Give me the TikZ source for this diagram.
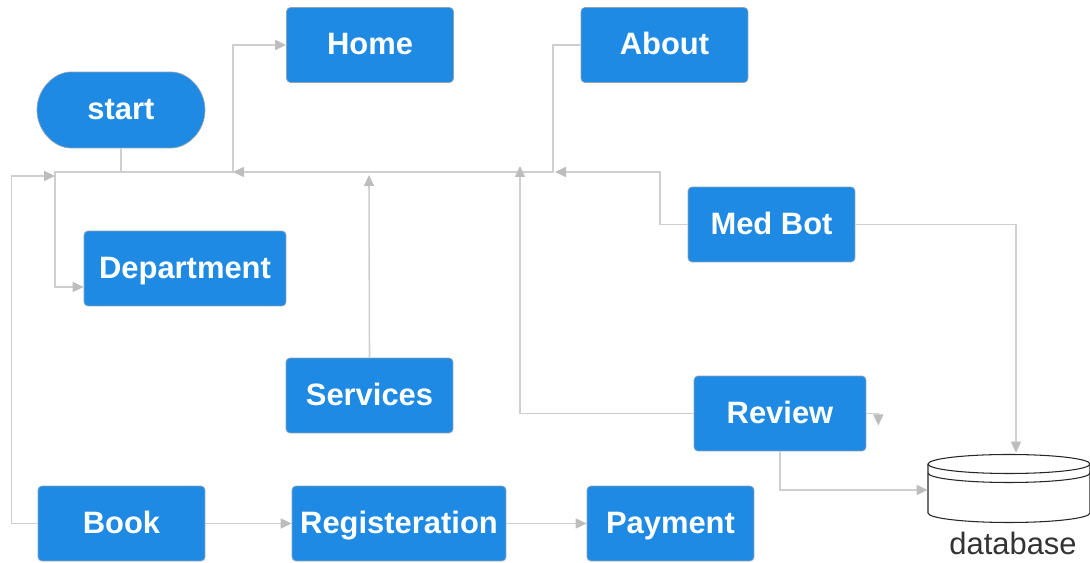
\documentclass[tikz,border=0pt]{standalone}
\usepackage{fontspec}
\setmainfont{Liberation Sans}
\usetikzlibrary{arrows.meta, positioning, shapes.misc, calc}
\definecolor{boxblue}{HTML}{1E8AE4}
\definecolor{boxedge}{HTML}{8FA3B5}
\definecolor{linegray}{HTML}{CFCFCF}
\definecolor{tipgray}{HTML}{BDBDBD}
\definecolor{dbtext}{HTML}{333333}

\tikzset{
  box/.style={rectangle, rounded corners=0.08cm, fill=boxblue, draw=boxedge, line width=0.4pt,
    text=white, font=\fontsize{17.6}{20}\selectfont\bfseries, inner sep=0pt,
    text height=12.6pt, text depth=1.5pt,
    minimum width=3.34cm, minimum height=1.5cm},
  startbox/.style={box, rounded rectangle},
  link/.style={draw=linegray, line width=0.9pt,
    -{Triangle[length=0.22cm, width=0.2cm, color=tipgray]}},
  dbline/.style={draw=black!85, line width=0.6pt},
}

\begin{document}
\begin{tikzpicture}[x=0.02cm, y=-0.02cm]
\useasboundingbox (0,0) rectangle (1090,563);

% pages
\node[box] (home) at (370,45) {Home};
\node[box] (about) at (664.5,45) {About};
\node[startbox, minimum width=3.36cm, minimum height=1.52cm] (start) at (121,110) {start};
\node[box, minimum width=4.04cm] (dept) at (185,268.5) {Department};
\node[box] (medbot) at (771.5,224.5) {Med Bot};
\node[box] (services) at (369.5,395.5) {Services};
\node[box, minimum width=3.44cm] (review) at (780,413.5) {Review};
\node[box] (book) at (121.5,523.5) {Book};
\node[box, minimum width=4.28cm] (reg) at (399,523.5) {Registeration};
\node[box] (payment) at (670.5,523.5) {Payment};

% database
\node[minimum width=3.24cm, minimum height=1.4cm, inner sep=0pt] (db) at (1009,488) {};
\begin{scope}[shift={(db.center)}]
  \draw[dbline, fill=white] (-81,-24) -- (-81,25)
    arc[start angle=180, end angle=360, x radius=1.62cm, y radius=0.19cm] -- (81,-24);
  \draw[dbline] (0,-24) ellipse [x radius=1.62cm, y radius=0.19cm];
  \draw[dbline] (-81,-15) arc[start angle=180, end angle=360, x radius=1.62cm, y radius=0.19cm];
\end{scope}
\node[text=dbtext, font=\fontsize{17.6}{20}\selectfont] (dblabel) at (1013,543) {database};

% junctions on the main bus
\coordinate (hubL) at (55,172);
\coordinate (hubB) at (55,176);
\coordinate (hubH) at (233,172);
\coordinate (hubS) at (369,175);
\coordinate (hubR) at (520,166);
\coordinate (hubA) at (553,172);
\coordinate (hubM) at (660,172);

% connectors
\draw[link] (start.south) |- (hubL) |- ([yshift=-0.37cm]dept.west);
\draw[link] (start.south) |- (hubH) |- (home.west);
\draw[link] (about.west) -| (hubA) -- (hubH);
\draw[link] (medbot.west) -| (hubM) -- ([xshift=0.04cm]hubA);
\draw[link] (services.north) -- (hubS);
\draw[link] (review.west) -| (hubR);
\draw[link] (review.east) -- ++(12,0) -- ++(0,12);
\draw[link] (review.south) |- ([yshift=-0.04cm]db.west);
\draw[link] (medbot.east) -| ([xshift=0.14cm]db.north);
\draw[link] (book.west) -- ++(-26,0) |- (hubB);
\draw[link] (book) -- (reg);
\draw[link] (reg) -- (payment);
\end{tikzpicture}
\end{document}
